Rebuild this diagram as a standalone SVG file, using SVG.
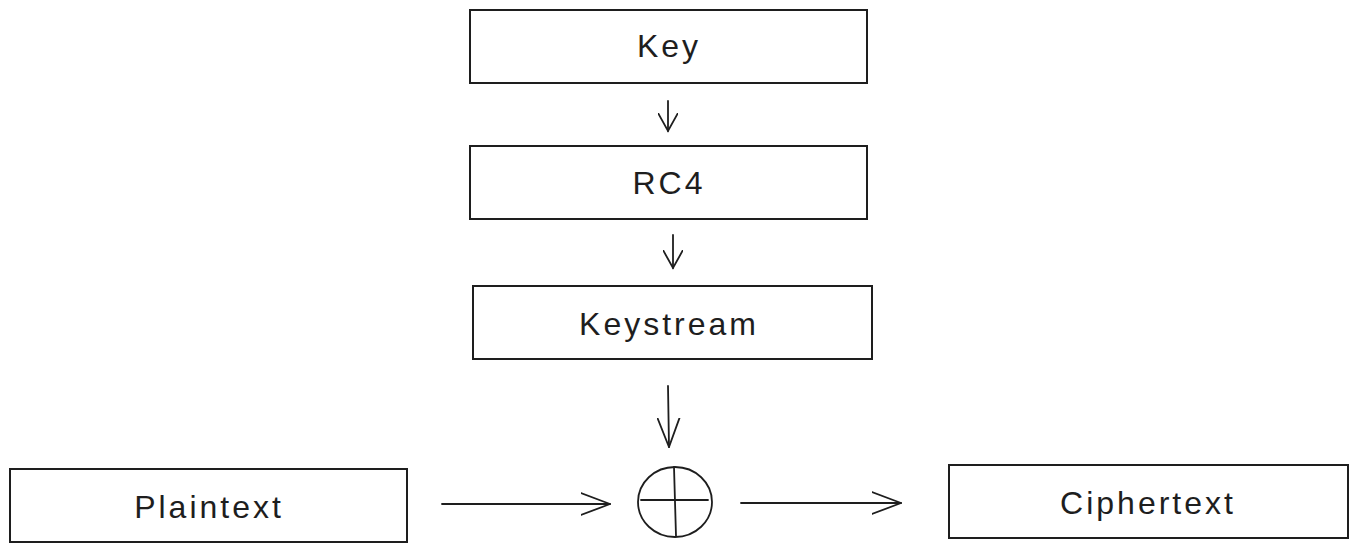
<svg xmlns="http://www.w3.org/2000/svg" width="1357" height="552" viewBox="0 0 1357 552">
<style>
.box{fill:#fff;stroke:#1e1e1e;stroke-width:2}
.lbl{font-family:"Liberation Sans",Arial,sans-serif;font-size:32px;fill:#1e1e1e;text-anchor:middle;letter-spacing:3px}
.ln{fill:none;stroke:#1e1e1e;stroke-width:1.8;stroke-linecap:round;stroke-linejoin:round}
</style>
<defs>
<marker id="ah" viewBox="0 0 20 20" refX="18" refY="10" markerWidth="20" markerHeight="20" markerUnits="userSpaceOnUse" orient="auto">
<path d="M0,0 L18,10 L0,20" fill="none" stroke="#1e1e1e" stroke-width="1.8" stroke-linecap="round"/>
</marker>
<marker id="ahL" viewBox="0 0 30 24" refX="29" refY="12" markerWidth="30" markerHeight="24" markerUnits="userSpaceOnUse" orient="auto">
<path d="M0,1 L29,12 L0,23" fill="none" stroke="#1e1e1e" stroke-width="1.8" stroke-linecap="round"/>
</marker>
</defs>
<rect width="1357" height="552" fill="#fff"/>
<g id="connectors">
<line class="ln" x1="668" y1="101" x2="668" y2="131" marker-end="url(#ah)"/>
<line class="ln" x1="673" y1="235" x2="673" y2="268" marker-end="url(#ah)"/>
<line class="ln" x1="668" y1="386" x2="669" y2="447" marker-end="url(#ahL)"/>
<line class="ln" x1="442" y1="504" x2="610" y2="504" marker-end="url(#ahL)"/>
<line class="ln" x1="741" y1="503" x2="901" y2="503" marker-end="url(#ahL)"/>
</g>
<g id="key">
<rect class="box" x="470" y="10" width="397" height="73"/>
<text class="lbl" x="669" y="57">Key</text>
</g>
<g id="rc4">
<rect class="box" x="470" y="146" width="397" height="73"/>
<text class="lbl" x="669" y="194">RC4</text>
</g>
<g id="keystream">
<rect class="box" x="473" y="286" width="399" height="73"/>
<text class="lbl" x="669" y="335">Keystream</text>
</g>
<g id="xor">
<ellipse class="ln" cx="675" cy="502" rx="37" ry="35"/>
<line class="ln" x1="674" y1="467" x2="676" y2="536"/>
<line class="ln" x1="641" y1="500" x2="708" y2="500"/>
</g>
<g id="plaintext">
<rect class="box" x="10" y="469" width="397" height="73"/>
<text class="lbl" x="209" y="518">Plaintext</text>
</g>
<g id="ciphertext">
<rect class="box" x="949" y="465" width="399" height="73"/>
<text class="lbl" x="1148" y="514">Ciphertext</text>
</g>
</svg>
